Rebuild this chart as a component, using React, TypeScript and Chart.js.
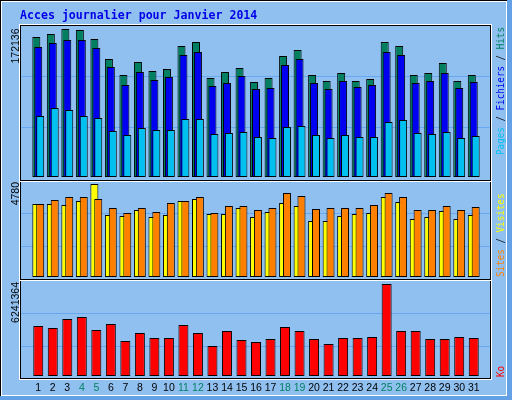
import React, { useEffect, useRef } from "react";
import { Chart, registerables } from "chart.js";

Chart.register(...registerables);

// ---------------- data ----------------
const titleText = "Acces journalier pour Janvier 2014";
const days = [1, 2, 3, 4, 5, 6, 7, 8, 9, 10, 11, 12, 13, 14, 15, 16, 17, 18, 19, 20, 21, 22, 23, 24, 25, 26, 27, 28, 29, 30, 31];
const weekendDays = [4, 5, 11, 12, 18, 19, 25, 26];

const hits = [162831, 166321, 172136, 170972, 160505, 137243, 118634, 133754, 123286, 125613, 152364, 157016, 115145, 122123, 126776, 110493, 115145, 140733, 147711, 118634, 111656, 120960, 111656, 113982, 157016, 152364, 118634, 120960, 132591, 111656, 118634];
const fichiers = [151200, 155853, 159342, 159342, 150037, 127939, 107003, 122123, 112819, 116308, 141896, 145385, 105840, 109329, 117471, 102351, 103514, 130265, 137243, 109329, 102351, 111656, 104677, 107003, 145385, 141896, 109329, 111656, 120960, 103514, 110493];
const pages = [70948, 80253, 77926, 70948, 68622, 53502, 48849, 56991, 54665, 54665, 67459, 67459, 50012, 51176, 52339, 46523, 45360, 58154, 59317, 48849, 45360, 48849, 46523, 46523, 63969, 66295, 51176, 50012, 52339, 45360, 47686];

const sites = [3752, 3958, 4112, 4112, 4009, 3546, 3289, 3546, 3341, 3803, 3906, 4112, 3289, 3649, 3649, 3444, 3546, 4317, 4163, 3495, 3546, 3546, 3546, 3701, 4317, 4112, 3444, 3444, 3649, 3444, 3598];
const visites = [3752, 3752, 3701, 3906, 4780, 3187, 3135, 3444, 3084, 3187, 3906, 4009, 3238, 3238, 3546, 3084, 3341, 3803, 3649, 2878, 2878, 3135, 3238, 3289, 4112, 3855, 2981, 3084, 3392, 2981, 3187];

const ko = [3392050, 3256368, 3866937, 4002618, 3120686, 3527732, 2374431, 2917158, 2577955, 2577955, 3459891, 2917158, 2035227, 3052845, 2442273, 2306591, 2510114, 3324209, 3052845, 2510114, 2170909, 2577955, 2577955, 2645796, 6241364, 3052845, 3052845, 2510114, 2510114, 2645796, 2577955];

const maxHitsLabel = "172136";
const maxVisitesLabel = "4780";
const maxKoLabel = "6241364";

// ---------------- styles ----------------
const W = 512;
const H = 400;
const BG = "#90c0f0";
const GRID = "#68a8f0";
const EDGE = "#64a0e6";
const C_HITS = "#008060";
const C_FICH = "#0000f0";
const C_PAGES = "#00c0f0";
const C_SITES = "#ff8000";
const C_VISITES = "#ffff00";
const C_KO = "#ff0000";
const C_TITLE = "#0000e8";
const SHIFT = 2 / 15; // bar offset, in days
const SANS = '"Liberation Sans", Arial, sans-serif';
const MONO = '"DejaVu Sans Mono", monospace';

type Part = { text: string; color: string };

function drawUp(ctx: CanvasRenderingContext2D, x: number, y: number, parts: Part[], font: string, anchor: "start" | "end", squeeze = 1) {
  ctx.save();
  ctx.font = font;
  const raw = parts.map((p) => ctx.measureText(p.text).width);
  const total = raw.reduce((a, b) => a + b, 0) * squeeze;
  ctx.translate(x, y);
  ctx.rotate(-Math.PI / 2);
  ctx.scale(squeeze, 1);
  ctx.textAlign = "left";
  ctx.textBaseline = "alphabetic";
  let pos = anchor === "end" ? -total / squeeze : 0;
  parts.forEach((p, i) => {
    ctx.fillStyle = p.color;
    ctx.fillText(p.text, pos, 0);
    pos += raw[i];
  });
  ctx.restore();
}

type PanelDecor = {
  topBlack: number | null;
  interiorTop: number;
  bottomBlack: number;
  grid: number[];
  maxLabel: string;
  labelEnd: number;
  legend: Part[];
  legendStart: number;
  outer?: boolean;
};

function decorPlugin(p: PanelDecor) {
  return {
    id: "decor",
    beforeDraw(chart: any) {
      if (!p.outer) return;
      const ctx = chart.ctx as CanvasRenderingContext2D;
      ctx.save();
      ctx.fillStyle = BG;
      ctx.fillRect(0, 0, W, H);
      ctx.fillStyle = "#000";
      ctx.fillRect(0, 0, W, 1);
      ctx.fillRect(0, 0, 1, H);
      ctx.fillStyle = "#fff";
      ctx.fillRect(1, 1, 506, 1);
      ctx.fillRect(1, 1, 1, 395);
      ctx.fillRect(506, 1, 1, 395);
      ctx.fillRect(1, 395, 506, 1);
      ctx.fillStyle = EDGE;
      ctx.fillRect(507, 0, 5, H);
      ctx.fillRect(0, 396, W, 4);
      // title
      ctx.font = `bold 11.6px ${MONO}`;
      ctx.fillStyle = C_TITLE;
      ctx.textAlign = "left";
      ctx.textBaseline = "alphabetic";
      ctx.fillText(titleText, 20, 19);
      ctx.restore();
    },
    beforeDatasetsDraw(chart: any) {
      const ctx = chart.ctx as CanvasRenderingContext2D;
      ctx.save();
      const top = p.topBlack !== null ? p.topBlack : p.interiorTop;
      // white outline
      ctx.fillStyle = "#fff";
      if (p.topBlack !== null) ctx.fillRect(19, p.topBlack - 1, 473, 1);
      ctx.fillRect(19, top, 1, p.bottomBlack - top + 2);
      ctx.fillRect(491, top, 1, p.bottomBlack - top + 2);
      ctx.fillRect(19, p.bottomBlack + 1, 473, 1);
      // black frame
      ctx.fillStyle = "#000";
      if (p.topBlack !== null) ctx.fillRect(20, p.topBlack, 471, 1);
      ctx.fillRect(20, top, 1, p.bottomBlack - top + 1);
      ctx.fillRect(490, top, 1, p.bottomBlack - top + 1);
      ctx.fillRect(20, p.bottomBlack, 471, 1);
      // grid
      ctx.fillStyle = GRID;
      p.grid.forEach((g) => ctx.fillRect(21, g, 469, 1));
      ctx.restore();
      drawUp(ctx, 19, p.labelEnd, [{ text: p.maxLabel, color: "#000" }], `10.5px ${SANS}`, "end");
      drawUp(ctx, 504, p.legendStart, p.legend, `11px ${MONO}`, "start", 0.84);
    },
  };
}

function xScale(show: boolean) {
  return {
    type: "linear" as const,
    min: 0.5,
    max: 31.5,
    display: show,
    grid: { display: false, drawTicks: false },
    border: { display: false },
    afterBuildTicks: (scale: any) => {
      scale.ticks = days.map((v) => ({ value: v }));
    },
    afterFit: (scale: any) => {
      if (show) scale.height = 24;
    },
    ticks: {
      autoSkip: false,
      maxRotation: 0,
      minRotation: 0,
      padding: 6,
      font: { family: "Liberation Sans", size: 10.5 },
      color: (c: any) => (c.tick && weekendDays.includes(c.tick.value) ? C_HITS : "#000"),
      callback: (v: any) => String(v),
    },
  };
}

function barSet(label: string, values: number[], color: string, shift: number, thickness: number) {
  return {
    label,
    data: values.map((v, i) => ({ x: days[i] + shift, y: v })),
    backgroundColor: color,
    borderColor: "#000",
    borderWidth: 1,
    borderSkipped: false,
    inflateAmount: 0,
    barThickness: thickness,
    grouped: false,
  };
}

function makeChart(canvas: HTMLCanvasElement, datasets: any[], yMax: number, padding: any, showX: boolean, decor: PanelDecor) {
  return new Chart(canvas, {
    type: "bar",
    data: { datasets },
    options: {
      responsive: false,
      animation: false,
      events: [],
      layout: { padding },
      scales: {
        x: xScale(showX) as any,
        y: { type: "linear", min: 0, max: yMax, display: false },
      },
      plugins: { legend: { display: false }, tooltip: { enabled: false }, title: { display: false } },
    },
    plugins: [decorPlugin(decor) as any],
  });
}

export default function App() {
  const refA = useRef<HTMLCanvasElement>(null);
  const refB = useRef<HTMLCanvasElement>(null);
  const refC = useRef<HTMLCanvasElement>(null);

  useEffect(() => {
    const side = 23.5;
    const a = makeChart(
      refA.current!,
      [
        barSet("Pages", pages, C_PAGES, SHIFT, 8),
        barSet("Fichiers", fichiers, C_FICH, 0, 8),
        barSet("Hits", hits, C_HITS, -SHIFT, 8),
      ],
      Number(maxHitsLabel),
      { left: side, right: side, top: 29, bottom: H - 177 },
      false,
      {
        topBlack: 25,
        interiorTop: 26,
        bottomBlack: 180,
        grid: [76, 127],
        maxLabel: maxHitsLabel,
        labelEnd: 28.5,
        legend: [
          { text: "Pages", color: C_PAGES },
          { text: " / ", color: "#000" },
          { text: "Fichiers", color: C_FICH },
          { text: " / ", color: "#000" },
          { text: "Hits", color: C_HITS },
        ],
        legendStart: 155,
        outer: true,
      }
    );
    const b = makeChart(
      refB.current!,
      [barSet("Sites", sites, C_SITES, SHIFT, 8), barSet("Visites", visites, C_VISITES, -SHIFT, 8)],
      Number(maxVisitesLabel),
      { left: side, right: side, top: 184, bottom: H - 277 },
      false,
      {
        topBlack: null,
        interiorTop: 182,
        bottomBlack: 279,
        grid: [213, 246],
        maxLabel: maxVisitesLabel,
        labelEnd: 182,
        legend: [
          { text: "Sites", color: C_SITES },
          { text: " / ", color: "#000" },
          { text: "Visites", color: C_VISITES },
        ],
        legendStart: 277,
      }
    );
    const c = makeChart(
      refC.current!,
      [barSet("Ko", ko, C_KO, 0, 10)],
      Number(maxKoLabel),
      { left: side, right: side, top: 284, bottom: 0 },
      true,
      {
        topBlack: null,
        interiorTop: 281,
        bottomBlack: 378,
        grid: [313, 346],
        maxLabel: maxKoLabel,
        labelEnd: 282,
        legend: [{ text: "Ko", color: C_KO }],
        legendStart: 377,
      }
    );
    return () => {
      a.destroy();
      b.destroy();
      c.destroy();
    };
  }, []);

  const cs: React.CSSProperties = { position: "absolute", left: 0, top: 0, width: W, height: H };
  return (
    <div style={{ position: "fixed", left: 0, top: 0, width: W, height: H, background: BG, overflow: "hidden" }}>
      <canvas ref={refA} width={W} height={H} style={cs} />
      <canvas ref={refB} width={W} height={H} style={cs} />
      <canvas ref={refC} width={W} height={H} style={cs} />
    </div>
  );
}
